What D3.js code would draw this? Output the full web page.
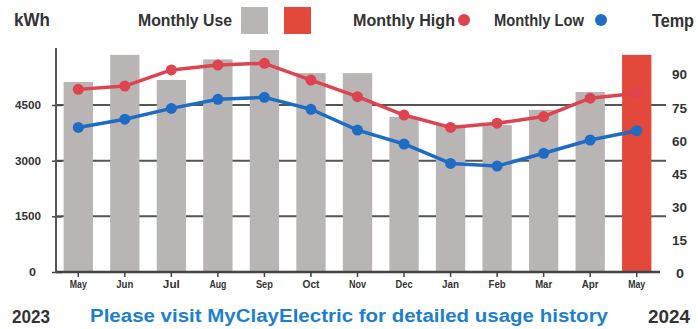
<!DOCTYPE html>
<html><head><meta charset="utf-8">
<script src="https://cdn.jsdelivr.net/npm/d3@7"></script>
<style>
body{margin:0;background:#fff;}
svg{display:block;}
text{font-family:"Liberation Sans",Arial,sans-serif;font-weight:bold;}
</style></head>
<body>
<svg id="c" width="698" height="329"></svg>
<script>
const months = ["May","Jun","Jul","Aug","Sep","Oct","Nov","Dec","Jan","Feb","Mar","Apr","May"];
const monthlyUse = [5120,5850,5175,5730,5980,5360,5360,4180,3960,3960,4370,4850,5850];
const monthlyHigh = [83.5,85,92.3,94.5,95.3,87.7,80.2,71.9,66.3,68.2,71.2,79.5,81.7];
const monthlyLow = [66.3,70,74.9,79,79.9,74.5,65.1,58.8,50,48.8,54.6,60.6,64.8];
const kwhTicks = [0,1500,3000,4500];
const tempTicks = [0,15,30,45,60,75,90];

const svg = d3.select("#c");
const L = 56, R = 660, B = 272;
const x = d3.scaleBand().domain(d3.range(months.length)).range([L-1,R]).paddingInner(0.37).paddingOuter(0.185);
const yK = d3.scaleLinear().domain([0,4500]).range([B,105]);
const yT = d3.scaleLinear().domain([0,90]).range([274,75]);
const cx = i => x(i) + x.bandwidth()/2;

function txt(xp,yp,s,size,w,color,anchor){
  const t = svg.append("text").attr("x",xp).attr("y",yp).attr("font-size",size).attr("fill",color||"#333").text(s);
  if(anchor) t.attr("text-anchor",anchor);
  if(w) t.attr("textLength",w).attr("lengthAdjust","spacingAndGlyphs");
  return t;
}

// gridlines
svg.append("g").selectAll("line").data(kwhTicks.filter(d=>d>0)).join("line")
  .attr("x1",L).attr("x2",R+6).attr("y1",d=>yK(d)).attr("y2",d=>yK(d))
  .attr("stroke","#555").attr("stroke-width",2);

// bars
svg.append("g").selectAll("rect").data(monthlyUse).join("rect")
  .attr("x",(d,i)=>x(i)).attr("width",x.bandwidth())
  .attr("y",d=>yK(d)).attr("height",d=>B-yK(d))
  .attr("fill",(d,i)=>i===months.length-1?"#e3483b":"#b9b5b5");

// left axis
const ax = d3.axisLeft(yK).tickValues(kwhTicks).tickSize(6).tickFormat(d=>d);
const gl = svg.append("g").attr("transform",`translate(${L},0)`).call(ax);
gl.select(".domain").remove();
gl.selectAll(".tick line").attr("x2",6).attr("x1",-4).attr("stroke","#444").attr("stroke-width",1.5);
gl.selectAll(".tick text").attr("x",-15).attr("font-size",11).attr("fill","#333")
  .attr("textLength",d=>d===0?7:26).attr("lengthAdjust","spacingAndGlyphs");
gl.selectAll(".tick").filter(d=>d===0).select("text").attr("x",-20);
svg.append("line").attr("x1",L).attr("x2",L).attr("y1",48).attr("y2",B+1).attr("stroke","#555").attr("stroke-width",2);

// bottom axis
const bx = d3.axisBottom(x).tickFormat(i=>months[i]).tickSize(5);
const gb = svg.append("g").attr("transform",`translate(0,${B})`).call(bx);
gb.select(".domain").remove();
gb.selectAll(".tick line").attr("stroke","#444").attr("stroke-width",1.5);
gb.selectAll(".tick text").attr("y",9).attr("font-size",10).attr("fill","#333")
  .attr("textLength",17).attr("lengthAdjust","spacingAndGlyphs");
svg.append("line").attr("x1",L).attr("x2",R).attr("y1",B).attr("y2",B).attr("stroke","#444").attr("stroke-width",2.5);

// right axis labels
const ar = d3.axisRight(yT).tickValues(tempTicks).tickSize(0).tickFormat(d=>d);
const gr = svg.append("g").attr("transform",`translate(672,0)`).call(ar);
gr.select(".domain").remove();
gr.selectAll(".tick text").attr("x",d=>d===0?4:0).attr("font-size",12).attr("fill","#333")
  .attr("textLength",d=>d===0?8:15).attr("lengthAdjust","spacingAndGlyphs");

// lines
const line = d3.line().x((d,i)=>cx(i)).y(d=>yT(d));
function series(data,color){
  svg.append("path").datum(data).attr("d",line).attr("fill","none").attr("stroke",color).attr("stroke-width",3.5).attr("stroke-linejoin","round");
  svg.append("g").selectAll("circle").data(data).join("circle")
    .attr("cx",(d,i)=>cx(i)).attr("cy",d=>yT(d)).attr("r",5.5).attr("fill",color);
}
series(monthlyHigh,"#dd4450");
series(monthlyLow,"#1f6cc4");

// header
txt(14,26,"kWh",18,36);
txt(138,26,"Monthly Use",17,94);
svg.append("rect").attr("x",241).attr("y",7).attr("width",27).attr("height",27).attr("fill","#b9b5b5");
svg.append("rect").attr("x",284).attr("y",7).attr("width",27).attr("height",27).attr("fill","#e3483b");
txt(353,26,"Monthly High",17,102);
svg.append("circle").attr("cx",464).attr("cy",20).attr("r",6).attr("fill","#dd4450");
txt(494,26,"Monthly Low",17,90);
svg.append("circle").attr("cx",601).attr("cy",20).attr("r",6).attr("fill","#1f6cc4");
txt(652,27,"Temp",18,42);

// footer
txt(12,323,"2023",18,38);
txt(90,322,"Please visit MyClayElectric for detailed usage history",18,518,"#1e7fcc");
txt(648,323,"2024",18,42);
</script>
</body></html>
